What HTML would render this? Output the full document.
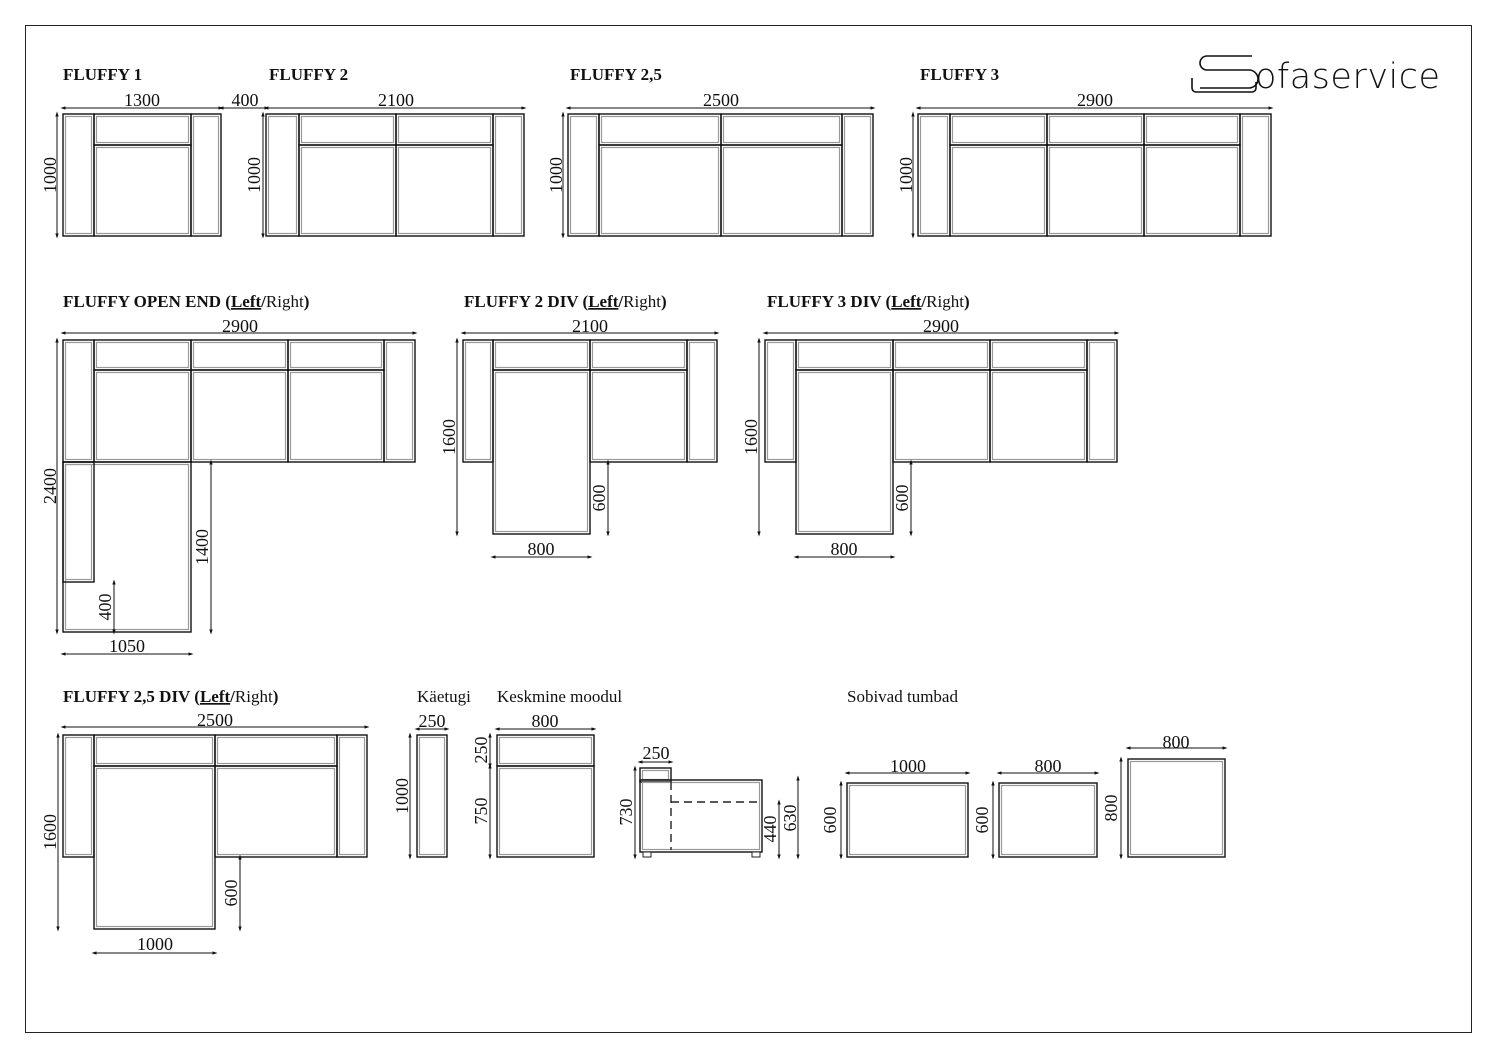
<!DOCTYPE html>
<html><head><meta charset="utf-8"><style>
html,body{margin:0;padding:0;background:#fff;}
svg{display:block;}
text{font-family:"Liberation Serif",serif;font-size:18px;fill:#111;}
.t{font-weight:bold;font-size:17px;}
.n{font-size:17px;}
</style></head><body>
<svg id="s" width="1497" height="1058" viewBox="0 0 1497 1058" xmlns="http://www.w3.org/2000/svg">
<defs>
<marker id="a" viewBox="0 0 6 6" refX="3" refY="3" markerWidth="5" markerHeight="5" orient="auto"><path d="M0,1 L6,3 L0,5 Z" fill="#111"/></marker>
<marker id="b" viewBox="0 0 6 6" refX="3" refY="3" markerWidth="5" markerHeight="5" orient="auto"><path d="M6,1 L0,3 L6,5 Z" fill="#111"/></marker>
</defs>
<rect x="25.5" y="25.5" width="1446" height="1007" fill="none" stroke="#222" stroke-width="1"/>
<g id="g"></g>
<g fill="none" stroke="#111" stroke-width="1.6">
<path d="M1252,56 H1207 a7,7 0 0 0 0,14 H1249 a9,9 0 0 1 0,18 H1200"/>
<path d="M1192,78 V88 a4,4 0 0 0 4,4 H1252 a4,4 0 0 0 4,-4 V82"/>
</g>
<text x="1255" y="88" style="font-family:'DejaVu Sans',sans-serif;font-size:35px;font-weight:300;letter-spacing:0.5px">ofaservice</text>
<text class="t" x="63" y="80">FLUFFY 1</text>
<text class="t" x="269" y="80">FLUFFY 2</text>
<text class="t" x="570" y="80">FLUFFY 2,5</text>
<text class="t" x="920" y="80">FLUFFY 3</text>
<text class="t" x="63" y="307">FLUFFY OPEN END (<tspan text-decoration="underline">Left</tspan>/<tspan font-weight="normal">Right</tspan>)</text>
<text class="t" x="464" y="307">FLUFFY 2 DIV (<tspan text-decoration="underline">Left</tspan>/<tspan font-weight="normal">Right</tspan>)</text>
<text class="t" x="767" y="307">FLUFFY 3 DIV (<tspan text-decoration="underline">Left</tspan>/<tspan font-weight="normal">Right</tspan>)</text>
<text class="t" x="63" y="702">FLUFFY 2,5 DIV (<tspan text-decoration="underline">Left</tspan>/<tspan font-weight="normal">Right</tspan>)</text>
<text class="n" x="417" y="702">Käetugi</text>
<text class="n" x="497" y="702">Keskmine moodul</text>
<text class="n" x="847" y="702">Sobivad tumbad</text>
<text x="142" y="106" text-anchor="middle">1300</text>
<text x="245" y="106" text-anchor="middle">400</text>
<text x="396" y="106" text-anchor="middle">2100</text>
<text x="721" y="106" text-anchor="middle">2500</text>
<text x="1095" y="106" text-anchor="middle">2900</text>
<text x="240" y="332" text-anchor="middle">2900</text>
<text x="590" y="332" text-anchor="middle">2100</text>
<text x="941" y="332" text-anchor="middle">2900</text>
<text x="127" y="652" text-anchor="middle">1050</text>
<text x="541" y="555" text-anchor="middle">800</text>
<text x="844" y="555" text-anchor="middle">800</text>
<text x="215" y="726" text-anchor="middle">2500</text>
<text x="155" y="950" text-anchor="middle">1000</text>
<text x="432" y="727" text-anchor="middle">250</text>
<text x="545" y="727" text-anchor="middle">800</text>
<text x="656" y="759" text-anchor="middle">250</text>
<text x="908" y="772" text-anchor="middle">1000</text>
<text x="1048" y="772" text-anchor="middle">800</text>
<text x="1176" y="748" text-anchor="middle">800</text>
<text transform="translate(56,175) rotate(-90)" text-anchor="middle">1000</text>
<text transform="translate(260,175) rotate(-90)" text-anchor="middle">1000</text>
<text transform="translate(562,175) rotate(-90)" text-anchor="middle">1000</text>
<text transform="translate(912,175) rotate(-90)" text-anchor="middle">1000</text>
<text transform="translate(56,486) rotate(-90)" text-anchor="middle">2400</text>
<text transform="translate(208,547) rotate(-90)" text-anchor="middle">1400</text>
<text transform="translate(111,607) rotate(-90)" text-anchor="middle">400</text>
<text transform="translate(455,437) rotate(-90)" text-anchor="middle">1600</text>
<text transform="translate(605,498) rotate(-90)" text-anchor="middle">600</text>
<text transform="translate(757,437) rotate(-90)" text-anchor="middle">1600</text>
<text transform="translate(908,498) rotate(-90)" text-anchor="middle">600</text>
<text transform="translate(56,832) rotate(-90)" text-anchor="middle">1600</text>
<text transform="translate(237,893) rotate(-90)" text-anchor="middle">600</text>
<text transform="translate(408,796) rotate(-90)" text-anchor="middle">1000</text>
<text transform="translate(487,750) rotate(-90)" text-anchor="middle">250</text>
<text transform="translate(487,811) rotate(-90)" text-anchor="middle">750</text>
<text transform="translate(632,812) rotate(-90)" text-anchor="middle">730</text>
<text transform="translate(776,829) rotate(-90)" text-anchor="middle">440</text>
<text transform="translate(796,818) rotate(-90)" text-anchor="middle">630</text>
<text transform="translate(836,820) rotate(-90)" text-anchor="middle">600</text>
<text transform="translate(988,820) rotate(-90)" text-anchor="middle">600</text>
<text transform="translate(1117,808) rotate(-90)" text-anchor="middle">800</text>
</svg>
<script>
var g=document.getElementById('g'),h='';
function B(x1,y1,x2,y2){h+='<rect x="'+x1+'" y="'+y1+'" width="'+(x2-x1)+'" height="'+(y2-y1)+'" fill="none" stroke="#111" stroke-width="1.4"/>';
h+='<rect x="'+(x1+2.5)+'" y="'+(y1+2.5)+'" width="'+(x2-x1-5)+'" height="'+(y2-y1-5)+'" fill="none" stroke="#999" stroke-width="1.2"/>';}
function L(x1,y1,x2,y2){h+='<line x1="'+x1+'" y1="'+y1+'" x2="'+x2+'" y2="'+y2+'" stroke="#111" stroke-width="1" marker-start="url(#b)" marker-end="url(#a)"/>';}
function P(x1,y1,x2,y2,d){h+='<line x1="'+x1+'" y1="'+y1+'" x2="'+x2+'" y2="'+y2+'" stroke="#222" stroke-width="1.4"'+(d?' stroke-dasharray="8,5"':'')+'/>';}
// skip: index of seat to extend, ext: bottom y
function sofa(xs,y1,yb,y2,skip,ext){B(xs[0],y1,xs[1],y2);var n=xs.length;B(xs[n-2],y1,xs[n-1],y2);
for(var i=1;i<n-2;i++){B(xs[i],y1,xs[i+1],yb);B(xs[i],yb,xs[i+1],(i===skip?ext:y2));}}
sofa([63,94,191,221],114,145,236);
sofa([266,299,396,493,524],114,145,236);
sofa([568,599,721,842,873],114,145,236);
sofa([918,950,1047,1144,1240,1271],114,145,236);
L(63,108,221,108);L(221,108,267,108);L(266,108,524,108);L(568,108,873,108);L(918,108,1271,108);
L(57,114,57,236);L(263,114,263,236);L(563,114,563,236);L(913,114,913,236);
sofa([63,94,191,288,384,415],340,370,462);
B(63,462,191,632);B(63,462,94,582);
L(63,333,415,333);L(57,340,57,632);L(211,462,211,632);L(114,582,114,632);L(63,654,191,654);
sofa([463,493,590,687,717],340,370,462,1,534);
L(463,333,717,333);L(457,340,457,534);L(608,462,608,534);L(493,557,590,557);
sofa([765,796,893,990,1087,1117],340,370,462,1,534);
L(765,333,1117,333);L(759,340,759,534);L(911,462,911,534);L(796,557,893,557);
sofa([63,94,215,337,367],735,766,857,1,929);
L(63,727,367,727);L(58,735,58,929);L(240,857,240,929);L(94,953,215,953);
B(417,735,447,857);L(417,729,447,729);L(410,735,410,857);
B(497,735,594,766);B(497,766,594,857);L(497,729,594,729);L(490,735,490,766);L(490,766,490,857);
B(640,768,671,782);B(640,780,762,852);P(640,780,671,780);
P(671,782,671,850,1);P(671,802,762,802,1);
h+='<rect x="643" y="852" width="8" height="5" fill="#fff" stroke="#222"/><rect x="752" y="852" width="8" height="5" fill="#fff" stroke="#222"/>';
L(640,762,671,762);L(635,768,635,857);L(779,802,779,857);L(798,778,798,857);
B(847,783,968,857);B(999,783,1097,857);B(1128,759,1225,857);
L(847,773,968,773);L(999,773,1097,773);L(1128,748,1225,748);
L(841,783,841,857);L(993,783,993,857);L(1121,759,1121,857);
g.innerHTML=h;
</script>
</body></html>
